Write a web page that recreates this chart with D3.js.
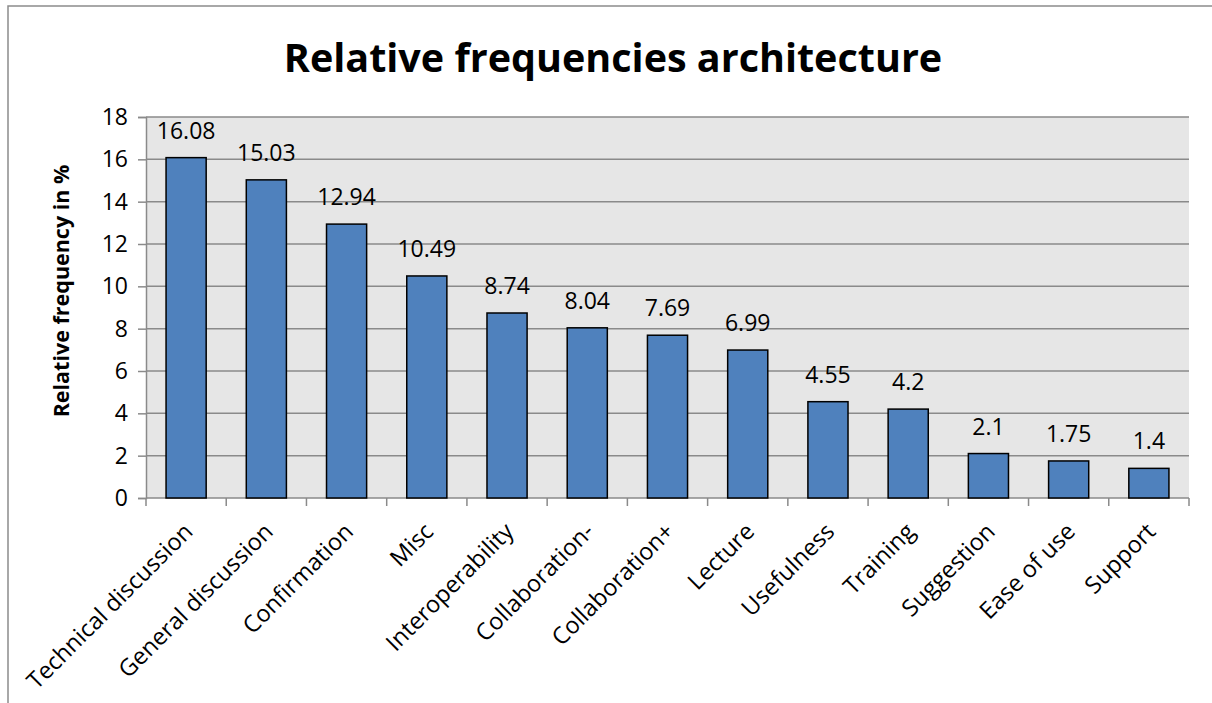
<!DOCTYPE html>
<html>
<head>
<meta charset="utf-8">
<script src="https://cdn.jsdelivr.net/npm/d3@7"></script>
<style>
  html, body { margin: 0; padding: 0; background: #fff; }
  svg { display: block; font-family: "Open Sans", sans-serif; }
</style>
</head>
<body>
<svg id="chart" width="1212" height="703"></svg>
<script>
// Categories and their relative frequencies (%)
const categories = [
  "Technical discussion", "General discussion", "Confirmation", "Misc",
  "Interoperability", "Collaboration-", "Collaboration+", "Lecture",
  "Usefulness", "Training", "Suggestion", "Ease of use", "Support"
];
const frequencies = [16.08, 15.03, 12.94, 10.49, 8.74, 8.04, 7.69, 6.99, 4.55, 4.2, 2.1, 1.75, 1.4];
const yTicks = [0, 2, 4, 6, 8, 10, 12, 14, 16, 18];
const titleText = "Relative frequencies architecture";
const yAxisTitle = "Relative frequency in %";

const svg = d3.select("#chart");
const W = 1212, H = 703;
const plot = { left: 146, right: 1189, top: 117, bottom: 498 };

// Outer chart frame (top and left edges visible)
svg.append("path")
  .attr("d", `M8,${H} L8,6 L${W},6`)
  .attr("fill", "none")
  .attr("stroke", "#8c8c8c")
  .attr("stroke-width", 1.5);

const x = d3.scaleBand().domain(categories).range([plot.left, plot.right]).paddingInner(0).paddingOuter(0);
const y = d3.scaleLinear().domain([0, 18]).range([plot.bottom, plot.top]);

// Plot background
svg.append("rect")
  .attr("x", plot.left).attr("y", plot.top)
  .attr("width", plot.right - plot.left).attr("height", plot.bottom - plot.top)
  .attr("fill", "#e6e6e6");

// Horizontal gridlines
svg.append("g")
  .selectAll("line")
  .data(yTicks.filter(d => d > 0))
  .join("line")
  .attr("x1", plot.left).attr("x2", plot.right)
  .attr("y1", d => y(d)).attr("y2", d => y(d))
  .attr("stroke", "#8a8a8a")
  .attr("stroke-width", 1.5);

// Y axis
const yAxis = svg.append("g")
  .attr("transform", `translate(${plot.left},0)`)
  .call(d3.axisLeft(y).tickValues(yTicks).tickSize(8).tickPadding(10).tickFormat(d3.format("d")));
yAxis.select(".domain").attr("stroke", "#8a8a8a").attr("stroke-width", 1.5);
yAxis.selectAll(".tick line").attr("stroke", "#8a8a8a").attr("stroke-width", 1.5);
yAxis.selectAll(".tick text")
  .attr("fill", "#000")
  .style("font-size", "23px")
  .style("font-family", "'Open Sans', sans-serif");

// X axis with ticks at category boundaries
const xAxisG = svg.append("g").attr("transform", `translate(0,${plot.bottom})`);
xAxisG.append("line")
  .attr("x1", plot.left).attr("x2", plot.right)
  .attr("y1", 0).attr("y2", 0)
  .attr("stroke", "#8a8a8a").attr("stroke-width", 1.5);
const boundaries = categories.map(c => x(c)).concat([x(categories[categories.length - 1]) + x.bandwidth()]);
xAxisG.selectAll("line.tk")
  .data(boundaries)
  .join("line")
  .attr("class", "tk")
  .attr("x1", d => d).attr("x2", d => d)
  .attr("y1", 0).attr("y2", 8)
  .attr("stroke", "#8a8a8a").attr("stroke-width", 1.5);

// Rotated category labels
xAxisG.selectAll("text")
  .data(categories)
  .join("text")
  .attr("text-anchor", "end")
  .attr("transform", d => `translate(${x(d) + x.bandwidth() / 2 + 8},35) rotate(-45)`)
  .style("font-size", "23.5px")
  .attr("fill", "#000")
  .text(d => d);

// Bars
const barW = x.bandwidth() * 0.5;
svg.append("g")
  .selectAll("rect")
  .data(frequencies)
  .join("rect")
  .attr("x", (d, i) => x(categories[i]) + (x.bandwidth() - barW) / 2)
  .attr("y", d => y(d))
  .attr("width", barW)
  .attr("height", d => y(0) - y(d))
  .attr("fill", "#4f81bd")
  .attr("stroke", "#000")
  .attr("stroke-width", 1.5);

// Value labels
svg.append("g")
  .selectAll("text")
  .data(frequencies)
  .join("text")
  .attr("x", (d, i) => x(categories[i]) + x.bandwidth() / 2)
  .attr("y", d => y(d) - 19)
  .attr("text-anchor", "middle")
  .style("font-size", "23px")
  .attr("fill", "#000")
  .text(d => d);

// Title
svg.append("text")
  .attr("x", 613).attr("y", 72)
  .attr("text-anchor", "middle")
  .style("font-size", "39.5px")
  .style("font-weight", "bold")
  .attr("fill", "#000")
  .text(titleText);

// Y axis title
svg.append("text")
  .attr("transform", "translate(69,291) rotate(-90)")
  .attr("text-anchor", "middle")
  .style("font-size", "21.5px")
  .style("font-weight", "bold")
  .attr("fill", "#000")
  .text(yAxisTitle);
</script>
</body>
</html>
